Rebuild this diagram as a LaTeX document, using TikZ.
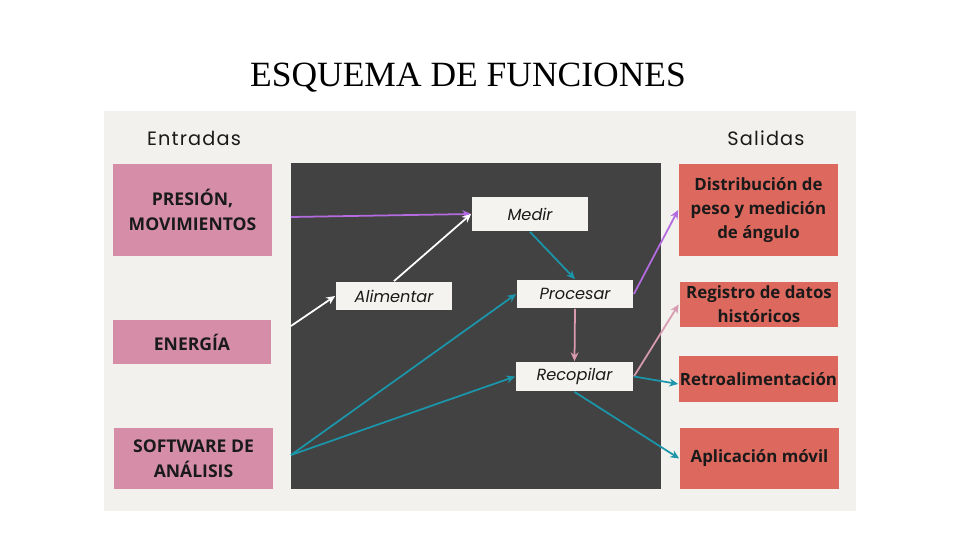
\documentclass[tikz,border=0pt]{standalone}
\usepackage{fontspec}
\setmainfont{Open Sans}
\newfontfamily\titlefont{Liberation Serif}
\newfontfamily\headfont[LetterSpace=6]{Poppins}
\newfontfamily\stepfont{Poppins}
\usetikzlibrary{arrows.meta}

\definecolor{panelgray}{HTML}{F2F1ED}
\definecolor{darkpanel}{HTML}{424242}
\definecolor{stepwhite}{HTML}{F5F3EF}
\definecolor{inpink}{HTML}{D68EA8}
\definecolor{outred}{HTML}{DD685D}
\definecolor{linepurple}{HTML}{B56BE0}
\definecolor{lineteal}{HTML}{1B95AA}
\definecolor{linepink}{HTML}{D79AB0}
\definecolor{inktext}{HTML}{1A1A1A}

\begin{document}
\begin{tikzpicture}[x=0.02cm,y=-0.02cm,->,>={Stealth[length=5pt,width=4.5pt]},line width=1pt]
    \tikzstyle{input box}=[rectangle,fill=inpink,minimum width=3.18cm,inner sep=0pt,align=center,text=inktext,font=\bfseries\fontsize{10}{14}\selectfont]
    \tikzstyle{output box}=[input box,fill=outred,font=\bfseries\fontsize{9.6}{13.8}\selectfont]
    \tikzstyle{stepbox}=[rectangle,fill=stepwhite,minimum width=2.32cm,minimum height=0.56cm,inner sep=0pt,text=inktext,font=\stepfont\itshape\fontsize{9.2}{11}\selectfont]
    \tikzstyle{head}=[text=inktext,font=\headfont\fontsize{11}{13}\selectfont]

    % Background
    \useasboundingbox (0,0) rectangle (960,540);
    \fill[white] (0,0) rectangle (960,540);
    \node[fill=panelgray,minimum width=15.04cm,minimum height=8cm,inner sep=0pt] (panel) at (480,311) {};
    \node[fill=darkpanel,minimum width=7.4cm,minimum height=6.52cm,inner sep=0pt] (core) at (476,326) {};

    % Title and headings
    \node[font=\titlefont\fontsize{20.2}{24}\selectfont] (title) at (468,78) {ESQUEMA DE FUNCIONES};
    \node[head] (hin) at (194,138) {Entradas};
    \node[head] (hout) at (766,138) {Salidas};

    % Draw the input boxes
    \node[input box,minimum height=1.84cm] (I-1) at (192.5,210) {PRESIÓN,\\MOVIMIENTOS};
    \node[input box,minimum height=0.88cm] (I-2) at (192,342) {ENERGÍA};
    \node[input box,minimum height=1.22cm] (I-3) at (193.5,458.5) {SOFTWARE DE\\ANÁLISIS};

    % Draw the output boxes
    \node[output box,minimum height=1.84cm] (O-1) at (758.5,210) {Distribución de\\peso y medición\\de ángulo};
    \node[output box,minimum height=0.9cm] (O-2) at (759,304.5) {Registro de datos\\históricos};
    \node[output box,minimum height=0.92cm] (O-3) at (758.5,379) {Retroalimentación};
    \node[output box,minimum height=1.22cm] (O-4) at (759.5,458.5) {Aplicación móvil};

    % Draw the function steps
    \node[stepbox,minimum height=0.68cm] (medir) at (530,214) {Medir};
    \node[stepbox] (alim) at (394,296) {Alimentar};
    \node[stepbox] (proc) at (575,294) {Procesar};
    \node[stepbox,minimum width=2.34cm,minimum height=0.58cm] (recop) at (574.5,376.5) {Recopilar};

    % Entry points on the edge of the core
    \coordinate (E-1) at (291,217);
    \coordinate (E-2) at (291,326);
    \coordinate (E-3) at (291,455);

    % Connect the inputs with the steps
    \draw[linepurple] (E-1) -- (medir.west);
    \draw[white] (E-2) -- (alim.west);
    \draw[white] (alim.north) -- (medir.west);
    \foreach \dest in {proc,recop}
        \draw[lineteal] (E-3) -- (\dest.west);

    % Connect the steps with one another
    \draw[lineteal] (medir.south) -- (proc.north);
    \draw[linepink] (proc.south) -- (recop.north);

    % Connect the steps with the outputs
    \draw[linepurple] (proc.east) -- (O-1.west);
    \draw[linepink] (recop.east) -- (O-2.west);
    \draw[lineteal] (recop.east) -- ([yshift=-0.1cm]O-3.west);
    \draw[lineteal] (recop.south) -- (O-4.west);

\end{tikzpicture}
\end{document}
